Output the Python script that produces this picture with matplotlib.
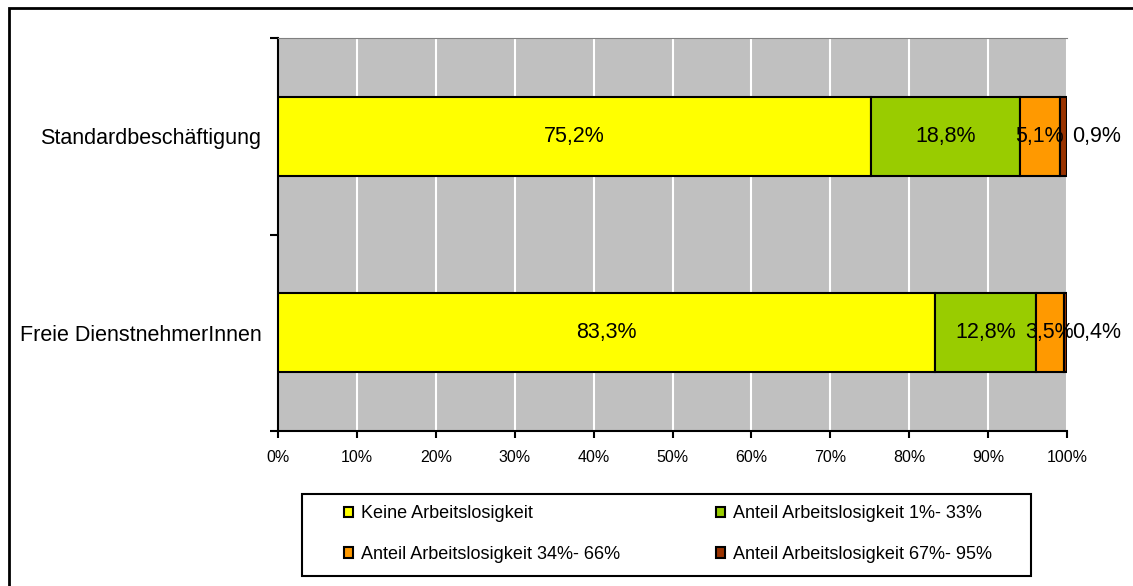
import matplotlib.pyplot as plt
from matplotlib.patches import Rectangle

plt.rcParams['font.family'] = ['Liberation Sans', 'DejaVu Sans']

groups = ['Freie DienstnehmerInnen', 'Standardbeschäftigung']
series = ['Keine Arbeitslosigkeit', 'Anteil Arbeitslosigkeit 1%- 33%',
          'Anteil Arbeitslosigkeit 34%- 66%', 'Anteil Arbeitslosigkeit 67%- 95%']
values = [
    [83.3, 75.2],
    [12.8, 18.8],
    [3.5, 5.1],
    [0.4, 0.9],
]
colors = ['#FFFF00', '#99CC00', '#FF9900', '#993300']
xticks = [0, 10, 20, 30, 40, 50, 60, 70, 80, 90, 100]

W, H = 1133, 586
fig = plt.figure(figsize=(W / 100, H / 100), dpi=100)
ax = fig.add_axes([278 / W, 1 - 431 / H, 789 / W, 393 / H])
ax.set_facecolor('#C0C0C0')

# outer chart frame (runs off the right and bottom edge)
fig.patches.append(Rectangle((9 / W, -0.05), 1.1, 1 - 8 / H + 0.05,
                             transform=fig.transFigure, fill=False,
                             edgecolor='black', linewidth=2))

ypos = [0.5, 1.5]
left = [0, 0]
handles = []
for i, (name, vals) in enumerate(zip(series, values)):
    bars = ax.barh(ypos, vals, left=left, height=0.4, color=colors[i],
                   edgecolor='black', linewidth=1.5, label=name, zorder=3)
    handles.append(bars)
    for y, l, v in zip(ypos, left, vals):
        txt = f'{v:.1f}%'.replace('.', ',')
        if i == len(series) - 1:
            # smallest share sits just outside the bar end
            ax.annotate(txt, (l + v, y), xytext=(21, 0), textcoords='offset points',
                        ha='center', va='center', fontsize=15.5, zorder=4,
                        annotation_clip=False)
        else:
            ax.text(l + v / 2, y, txt, ha='center', va='center', fontsize=15.5,
                    zorder=4)
    left = [a + b for a, b in zip(left, vals)]

ax.set_xlim(0, 100)
ax.set_ylim(0, 2)
ax.set_xticks(xticks)
ax.set_xticklabels([f'{t}%' for t in xticks], fontsize=11.5)
ax.tick_params(axis='x', direction='out', length=5, width=1.5, pad=9)
ax.set_yticks([0, 1, 2])
ax.set_yticklabels([])
ax.set_yticks(ypos, minor=True)
ax.set_yticklabels(groups, minor=True, fontsize=15.5)
ax.tick_params(axis='y', which='major', direction='out', length=6, width=1.5)
ax.tick_params(axis='y', which='minor', length=0, pad=12)
ax.grid(axis='x', color='white', linewidth=1.5, zorder=1)
ax.set_axisbelow(True)

ax.spines['right'].set_visible(False)
ax.spines['top'].set_color('#808080')
ax.spines['left'].set_linewidth(1.5)
ax.spines['bottom'].set_linewidth(1.5)

# legend box drawn separately, entries placed inside it
fig.patches.append(Rectangle((302 / W, 1 - 576 / H), 729 / W, 82 / H,
                             transform=fig.transFigure, fill=False,
                             edgecolor='black', linewidth=1.5))
order = [0, 2, 1, 3]
leg = fig.legend([handles[k] for k in order], [series[k] for k in order],
                 ncol=2, loc='center left',
                 bbox_to_anchor=(344 / W, 1 - 534 / H, 648 / W, 0),
                 mode='expand', fontsize=13, frameon=False,
                 handlelength=0.5, handleheight=0.5, handletextpad=0.45,
                 labelspacing=1.32, borderpad=0, borderaxespad=0,
                 columnspacing=2)

fig.savefig('out.png', dpi=100)
